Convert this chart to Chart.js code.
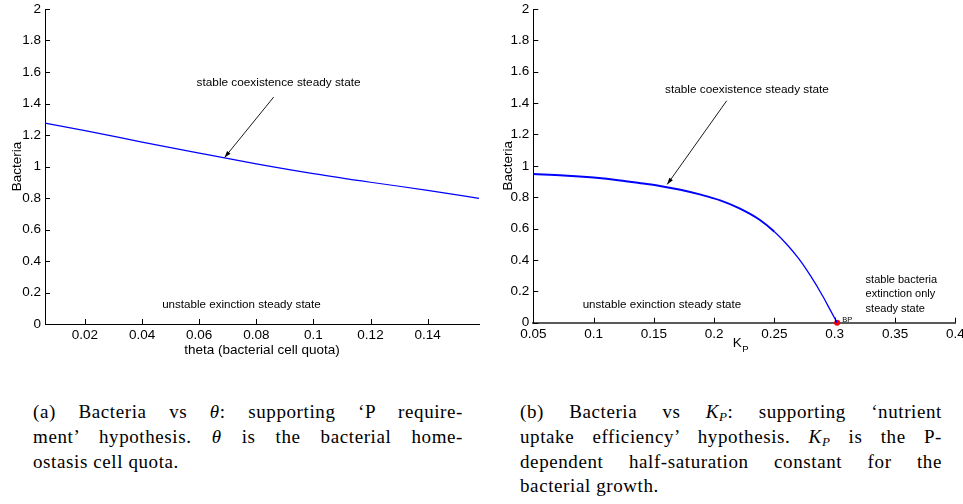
<!DOCTYPE html>
<html>
<head>
<meta charset="utf-8">
<script src="https://cdn.jsdelivr.net/npm/chart.js@4.4.1/dist/chart.umd.min.js"></script>
<style>
  html, body { margin: 0; padding: 0; background: #fff; }
  body { width: 963px; height: 504px; position: relative; overflow: hidden; }
  canvas { position: absolute; top: 0; }
  #chartA { left: 0; }
  #chartB { left: 490px; }
  .cap {
    position: absolute; top: 400px;
    font-family: "Liberation Serif", serif; font-size: 19px; line-height: 24.8px;
    letter-spacing: 0.6px; color: #000;
  }
  .cap div { text-align: justify; text-align-last: justify; }
  .cap div.last { text-align: left; text-align-last: left; }
  .cap sub { font-size: 13px; line-height: 0; vertical-align: -3px; font-style: italic; }
  #capA { left: 33px; width: 430px; }
  #capB { left: 520px; width: 422px; }
</style>
</head>
<body>
<canvas id="chartA" width="490" height="370"></canvas>
<canvas id="chartB" width="473" height="370"></canvas>

<div class="cap" id="capA">
  <div>(a) Bacteria vs <i>θ</i>: supporting ‘P require-</div>
  <div>ment’ hypothesis. <i>θ</i> is the bacterial home-</div>
  <div class="last">ostasis cell quota.</div>
</div>
<div class="cap" id="capB">
  <div>(b) Bacteria vs <i>K</i><sub>P</sub>: supporting ‘nutrient</div>
  <div>uptake efficiency’ hypothesis. <i>K</i><sub>P</sub> is the P-</div>
  <div>dependent half-saturation constant for the</div>
  <div class="last">bacterial growth.</div>
</div>

<script>
// (a) bacteria vs theta
const thetaValues = [0.006, 0.02, 0.04, 0.06, 0.08, 0.10, 0.12, 0.14, 0.158];
const bacteriaVsTheta = [1.275, 1.228, 1.155, 1.085, 1.017, 0.955, 0.900, 0.849, 0.798];
const thetaTicks = [0.02, 0.04, 0.06, 0.08, 0.1, 0.12, 0.14];

// (b) bacteria vs K_P
const kpValues = [0.05, 0.075, 0.1, 0.122, 0.139, 0.155, 0.172, 0.188, 0.205, 0.221, 0.238, 0.25, 0.26, 0.27, 0.28, 0.29, 0.296, 0.302];
const bacteriaVsKp = [0.948, 0.939, 0.925, 0.907, 0.889, 0.872, 0.848, 0.818, 0.780, 0.729, 0.655, 0.580, 0.502, 0.410, 0.298, 0.170, 0.085, 0];
const kpTicks = [0.05, 0.1, 0.15, 0.2, 0.25, 0.3, 0.35, 0.4];
const branchPoint = { x: 0.302, y: 0 };

const bacteriaTicks = [0, 0.2, 0.4, 0.6, 0.8, 1, 1.2, 1.4, 1.6, 1.8, 2];

const SANS = '"Liberation Sans", Arial, sans-serif';
Chart.defaults.font.family = SANS;
Chart.defaults.color = '#000';

// matlab style: ticks pointing inward, plus text notes and arrows
const matlabAxes = {
  id: 'matlabAxes',
  afterDatasetsDraw(chart, args, o) {
    const { ctx, scales: { x, y } } = chart;
    ctx.save();
    ctx.strokeStyle = '#000';
    ctx.lineWidth = 1;
    ctx.beginPath();
    x.ticks.forEach(t => {
      const px = Math.round(x.getPixelForValue(t.value)) + 0.5;
      ctx.moveTo(px, y.bottom);
      ctx.lineTo(px, y.bottom - 5);
    });
    y.ticks.forEach(t => {
      const py = Math.round(y.getPixelForValue(t.value)) + 0.5;
      ctx.moveTo(x.left, py);
      ctx.lineTo(x.left + 5, py);
    });
    ctx.stroke();

    ctx.fillStyle = '#000';
    ctx.textBaseline = 'middle';
    (o.notes || []).forEach(n => {
      ctx.font = n.size + 'px ' + SANS;
      ctx.textAlign = n.align || 'center';
      const px = x.getPixelForValue(n.at[0]);
      let py = y.getPixelForValue(n.at[1]);
      n.lines.forEach(line => {
        ctx.fillText(line, px, py);
        py += n.size * 1.3;
      });
    });

    (o.arrows || []).forEach(a => {
      const x0 = x.getPixelForValue(a.from[0]), y0 = y.getPixelForValue(a.from[1]);
      const x1 = x.getPixelForValue(a.to[0]), y1 = y.getPixelForValue(a.to[1]);
      const ang = Math.atan2(y1 - y0, x1 - x0);
      ctx.lineWidth = 0.9;
      ctx.beginPath();
      ctx.moveTo(x0, y0);
      ctx.lineTo(x1, y1);
      ctx.stroke();
      ctx.beginPath();
      ctx.moveTo(x1, y1);
      ctx.lineTo(x1 - 7 * Math.cos(ang - 0.32), y1 - 7 * Math.sin(ang - 0.32));
      ctx.lineTo(x1 - 7 * Math.cos(ang + 0.32), y1 - 7 * Math.sin(ang + 0.32));
      ctx.closePath();
      ctx.fill();
    });

    if (o.subTitle) {
      const cx = (x.left + x.right) / 2 - 3;
      const cy = y.bottom + 21;
      ctx.textAlign = 'center';
      ctx.font = '13.5px ' + SANS;
      ctx.fillText(o.subTitle.main, cx - 4, cy);
      ctx.font = '9.5px ' + SANS;
      ctx.textAlign = 'left';
      ctx.fillText(o.subTitle.sub, cx + 1, cy + 6);
    }
    ctx.restore();
  }
};

function axes(xTicks, xMin, xMax, yWidth, xHeight, xTitle, yTitlePad, xBorder) {
  return {
    x: {
      type: 'linear', min: xMin, max: xMax,
      afterBuildTicks: s => { s.ticks = xTicks.map(v => ({ value: v })); },
      afterFit: s => { s.height = xHeight; s.paddingLeft = 0; s.paddingRight = 0; },
      ticks: { font: { size: 13.5 }, padding: 3, autoSkip: false, maxRotation: 0, callback: v => String(v) },
      grid: { display: true, drawOnChartArea: false, drawTicks: false },
      border: { display: true, color: xBorder.color, width: xBorder.width },
      title: xTitle
    },
    y: {
      type: 'linear', min: 0, max: 2,
      afterBuildTicks: s => { s.ticks = bacteriaTicks.map(v => ({ value: v })); },
      afterFit: s => { s.width = yWidth; s.paddingTop = 0; s.paddingBottom = 0; },
      ticks: { font: { size: 13.5 }, padding: 4, callback: v => String(v) },
      grid: { display: true, drawOnChartArea: false, drawTicks: false },
      border: { display: true, color: '#000', width: 1 },
      title: { display: true, text: 'Bacteria', font: { size: 13.5 }, padding: { top: yTitlePad, bottom: 0 } }
    }
  };
}

new Chart(document.getElementById('chartA'), {
  type: 'line',
  data: {
    datasets: [{
      data: thetaValues.map((t, i) => ({ x: t, y: bacteriaVsTheta[i] })),
      borderColor: '#0000ff', borderWidth: 1.2, pointRadius: 0,
      cubicInterpolationMode: 'monotone', clip: false
    }]
  },
  options: {
    responsive: false, animation: false, devicePixelRatio: 1,
    layout: { padding: { top: 9, right: 11, left: 0, bottom: 0 } },
    plugins: {
      legend: { display: false }, tooltip: { enabled: false },
      matlabAxes: {
        notes: [
          { at: [0.0878, 1.53], size: 11.8, lines: ['stable coexistence steady state'] },
          { at: [0.0748, 0.121], size: 11.6, lines: ['unstable exinction steady state'] }
        ],
        arrows: [{ from: [0.0861, 1.441], to: [0.0689, 1.057] }]
      }
    },
    scales: axes(thetaTicks, 0.006, 0.158, 45, 46,
      { display: true, text: 'theta (bacterial cell quota)', font: { size: 13.5 }, padding: { top: 0, bottom: 12 } },
      9, { color: '#000', width: 1 })
  },
  plugins: [matlabAxes]
});

new Chart(document.getElementById('chartB'), {
  type: 'line',
  data: {
    datasets: [{
      data: kpValues.map((k, i) => ({ x: k, y: bacteriaVsKp[i] })),
      borderColor: '#0000ff', pointRadius: 0,
      segment: { borderWidth: c => (c.p0.parsed.x < 0.245 ? 2 : 1.3) },
      cubicInterpolationMode: 'monotone', clip: false
    }, {
      data: [branchPoint],
      showLine: false, pointRadius: 3, pointBackgroundColor: '#ff0000',
      pointBorderColor: '#ff0000', pointBorderWidth: 0, clip: false
    }]
  },
  options: {
    responsive: false, animation: false, devicePixelRatio: 1,
    layout: { padding: { top: 9, right: 7.7, left: 0, bottom: 0 } },
    plugins: {
      legend: { display: false }, tooltip: { enabled: false },
      matlabAxes: {
        notes: [
          { at: [0.2272, 1.484], size: 11.8, lines: ['stable coexistence steady state'] },
          { at: [0.1567, 0.113], size: 11.6, lines: ['unstable exinction steady state'] },
          { at: [0.3256, 0.272], size: 11, align: 'left', lines: ['stable bacteria', 'extinction only', 'steady state'] },
          { at: [0.3062, 0.018], size: 7.5, align: 'left', lines: ['BP'] }
        ],
        arrows: [{ from: [0.2104, 1.415], to: [0.1611, 0.882] }],
        subTitle: { main: 'K', sub: 'P' }
      }
    },
    scales: axes(kpTicks, 0.05, 0.4, 43.3, 47.3, { display: false }, 10, { color: '#5a5a5a', width: 2 })
  },
  plugins: [matlabAxes]
});
</script>
</body>
</html>
